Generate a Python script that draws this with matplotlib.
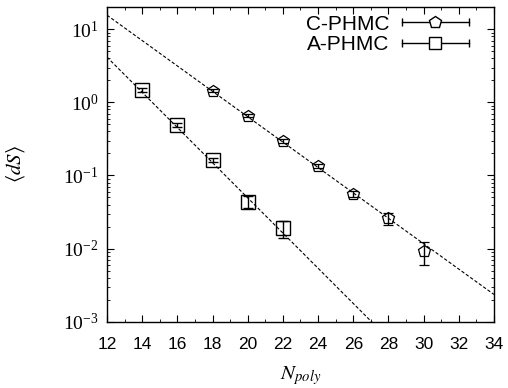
import numpy as np
import matplotlib
matplotlib.use("Agg")
import matplotlib.pyplot as plt
from matplotlib.legend_handler import HandlerBase
from matplotlib.lines import Line2D
from matplotlib.ticker import MultipleLocator, LogLocator, NullFormatter

# Measured mean step size vs. polymer length
n_c = [18, 20, 22, 24, 26, 28, 30]
ds_c = [1.45, 0.66, 0.297, 0.135, 0.056, 0.026, 0.0092]
err_c = [0.07, 0.035, 0.018, 0.009, 0.005, 0.005, 0.0032]

n_a = [14, 16, 18, 20, 22]
ds_a = [1.47, 0.49, 0.163, 0.044, 0.019]
err_a = [0.09, 0.03, 0.012, 0.008, 0.005]

# Exponential fits: <dS> = 10**(log_amp - slope * N)
fit_c = (3.278, 0.1737)
fit_a = (3.508, 0.2407)

labels = ["C-PHMC", "A-PHMC"]
xticks = list(range(12, 35, 2))

plt.rcParams["mathtext.fontset"] = "stix"
plt.rcParams["font.family"] = "Liberation Sans"

fig = plt.figure(figsize=(5.08, 3.88), dpi=100)
ax = fig.add_axes([0.2106, 0.1709, 0.9724 - 0.2106, 0.9812 - 0.1709])

xx = np.linspace(12, 34, 200)
for amp, slope in (fit_c, fit_a):
    ax.plot(xx, 10 ** (amp - slope * xx), color="black", lw=0.8,
            dashes=(3, 1.8), zorder=2)

ax.errorbar(n_c, ds_c, yerr=err_c, fmt="p", ms=9, mfc="none", mec="black",
            mew=0.9, ecolor="black", elinewidth=1.0, capsize=3.5, capthick=1.0,
            zorder=3)
ax.errorbar(n_a, ds_a, yerr=err_a, fmt="s", ms=9.5, mfc="none", mec="black",
            mew=1.0, ecolor="black", elinewidth=1.0, capsize=3.5, capthick=1.0,
            zorder=3)

ax.set_yscale("log")
ax.set_xlim(12, 34)
ax.set_ylim(1e-3, 20)
ax.set_xticks(xticks)
ax.xaxis.set_minor_locator(MultipleLocator(1))
ax.yaxis.set_major_locator(LogLocator(base=10, numticks=10))
ax.yaxis.set_minor_locator(LogLocator(base=10, subs=np.arange(2, 10), numticks=20))
ax.yaxis.set_minor_formatter(NullFormatter())
ax.tick_params(which="both", direction="in", top=True, right=True)
ax.tick_params(which="major", length=5, width=0.8)
ax.tick_params(which="minor", length=2.5, width=0.6)
ax.tick_params(axis="x", labelsize=12.5, pad=11)
ax.tick_params(axis="y", labelsize=14, pad=6)
for lab in ax.get_yticklabels():
    lab.set_family("Liberation Serif")
for s in ax.spines.values():
    s.set_linewidth(1.0)

ax.set_xlabel(r"$N_{poly}$", fontsize=15, labelpad=9)
ax.set_ylabel(r"$\langle dS\rangle$", fontsize=15, labelpad=26)


class HandlerHBar(HandlerBase):
    """Horizontal line with end caps and a marker in the middle."""

    def __init__(self, marker, ms):
        super().__init__()
        self.marker = marker
        self.ms = ms

    def create_artists(self, legend, orig_handle, xdescent, ydescent,
                       width, height, fontsize, trans):
        y = height / 2 - ydescent
        x0, x1 = -xdescent, -xdescent + width
        line = Line2D([x0, x1], [y, y], color="black", lw=1.0)
        caps = Line2D([x0, x1], [y, y], ls="none", marker="|", ms=6,
                      mew=1.0, color="black")
        mark = Line2D([(x0 + x1) / 2], [y], ls="none", marker=self.marker,
                      ms=self.ms, mfc="white", mec="black", mew=1.0)
        for a in (line, caps, mark):
            a.set_transform(trans)
        return [line, caps, mark]


h_c = Line2D([], [], color="black")
h_a = Line2D([], [], color="black")
leg = ax.legend([h_c, h_a], labels,
                handler_map={h_c: HandlerHBar("p", 9), h_a: HandlerHBar("s", 9)},
                loc="upper right", bbox_to_anchor=(0.935, 0.977),
                frameon=False, markerfirst=False, fontsize=15,
                handlelength=3.2, handletextpad=0.6, labelspacing=0.08,
                borderpad=0, borderaxespad=0)

fig.savefig("out.png", dpi=100)
